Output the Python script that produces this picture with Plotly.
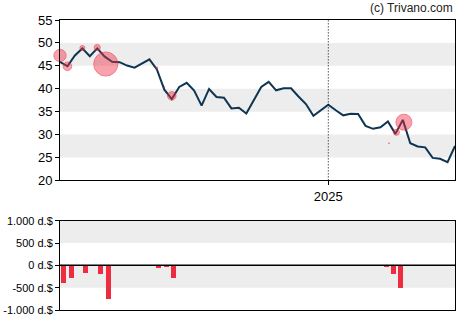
import pandas as pd
import plotly.graph_objects as go
from plotly.subplots import make_subplots

# Weekly closing prices
price_dates = pd.date_range("2024-04-24", periods=54, freq="7D")
prices = [
    45.87, 44.9, 47.25, 48.8, 47.1, 48.8, 47.0, 45.87, 45.8, 45.06,
    44.6, 45.5, 46.4, 44.2, 39.8, 37.75, 40.4, 41.3, 39.6, 36.3,
    39.95, 38.2, 38.05, 35.7, 35.85, 34.6, 37.5, 40.4, 41.5, 39.65,
    40.1, 40.1, 38.3, 36.65, 34.1, 35.4, 36.5, 35.3, 34.2, 34.55,
    34.5, 31.9, 31.25, 31.6, 32.85, 30.15, 33.2, 28.1, 27.4, 27.2,
    24.9, 24.7, 23.95, 27.5,
]

# Insider transactions: date, trade price, value in thousand $ (sales negative)
trade_dates = [
    "2024-04-24", "2024-05-01", "2024-05-15", "2024-05-29", "2024-06-06",
    "2024-07-24", "2024-07-31", "2024-08-07", "2025-02-27", "2025-03-06",
    "2025-03-13",
]
trade_prices = [47.25, 44.9, 48.9, 49.0, 45.4, 44.55, 40.4, 38.45, 28.1, 30.5, 32.7]
trade_values = [-385, -269, -154, -192, -754, -62, -31, -269, -31, -192, -500]

price_ticks = [20, 25, 30, 35, 40, 45, 50, 55]
flow_ticks = [-1000, -500, 0, 500, 1000]
flow_labels = ["-1.000 d.$", "-500 d.$", "0 d.$", "500 d.$", "1.000 d.$"]
year_tick = "2025-01-01"

LINE = "#0e3552"
RED = "rgb(238,44,64)"
BAND = "#ededed"
FONT = "Liberation Sans, Arial, sans-serif"

fig = make_subplots(rows=2, cols=1, vertical_spacing=0.0,
                    row_heights=[0.69, 0.31])

fig.add_trace(go.Scatter(
    x=price_dates, y=prices, mode="lines",
    line=dict(color=LINE, width=2), hoverinfo="skip", showlegend=False,
), row=1, col=1)

# bubble diameter grows with the traded value
fig.add_trace(go.Scatter(
    x=pd.to_datetime(trade_dates), y=trade_prices, mode="markers",
    marker=dict(size=[abs(v) * 0.032 for v in trade_values],
                sizemode="diameter",
                color="rgba(238,44,64,0.62)",
                line=dict(color="rgba(238,44,64,0.8)", width=1)),
    cliponaxis=False, showlegend=False, hoverinfo="skip",
), row=1, col=1)

day_ms = 86400000
fig.add_trace(go.Bar(
    x=pd.to_datetime(trade_dates), y=trade_values,
    width=4.8 * day_ms, marker=dict(color=RED, line=dict(width=0)),
    showlegend=False, hoverinfo="skip",
), row=2, col=1)

x0, x1 = price_dates[0], price_dates[-1]
pad = pd.Timedelta(days=3.8)

# alternating grey bands
shapes = []
for lo in price_ticks[1::2][:-1]:
    shapes.append(dict(type="rect", xref="x domain", yref="y", x0=0, x1=1,
                       y0=lo, y1=lo + 5, fillcolor=BAND, line_width=0,
                       layer="below"))
for lo in [500, -500]:
    shapes.append(dict(type="rect", xref="x2 domain", yref="y2", x0=0, x1=1,
                       y0=lo, y1=lo + 500, fillcolor=BAND, line_width=0,
                       layer="below"))
shapes.append(dict(type="line", xref="x", yref="y domain", x0=year_tick,
                   x1=year_tick, y0=0, y1=1,
                   line=dict(color="black", width=1, dash="1px,2px")))
shapes.append(dict(type="line", xref="x2 domain", yref="y2", x0=0, x1=1,
                   y0=0, y1=0, line=dict(color="black", width=1.5)))

fig.update_layout(
    width=470, height=325,
    margin=dict(l=60, r=15, t=20, b=15, pad=0, autoexpand=False),
    paper_bgcolor="white", plot_bgcolor="white",
    font=dict(family=FONT, color="black"),
    shapes=shapes,
    bargap=0,
    annotations=[dict(text="(c) Trivano.com", xref="paper", yref="paper",
                      x=1, y=1, xanchor="right", yanchor="bottom", yshift=3,
                      showarrow=False, font=dict(size=12, family=FONT,
                                                 color="#222"))],
)

axis_common = dict(showgrid=False, showline=True, linecolor="black",
                   linewidth=1, mirror=True, automargin=False)
fig.update_xaxes(row=1, col=1, range=[x0, x1], tickvals=[year_tick],
                 ticktext=["2025"], ticks="outside", ticklen=4,
                 tickcolor="black", tickfont=dict(size=13), **axis_common)
fig.update_xaxes(row=2, col=1, range=[x0 - pad, x1 + pad],
                 showticklabels=False, ticks="", **axis_common)
fig.update_yaxes(row=1, col=1, range=[20, 55], tickvals=price_ticks,
                 ticks="outside", ticklen=4, tickcolor="black",
                 zeroline=False, tickfont=dict(size=13), **axis_common)
fig.update_yaxes(row=2, col=1, range=[-1000, 1000], tickvals=flow_ticks,
                 ticktext=flow_labels, ticks="outside", ticklen=4,
                 tickcolor="black", zeroline=False,
                 tickfont=dict(size=11), **axis_common)

fig.update_layout(
    yaxis=dict(domain=[0.447, 1.0]),
    yaxis2=dict(domain=[0.0, 0.308]),
)

fig.write_html("out.html")
